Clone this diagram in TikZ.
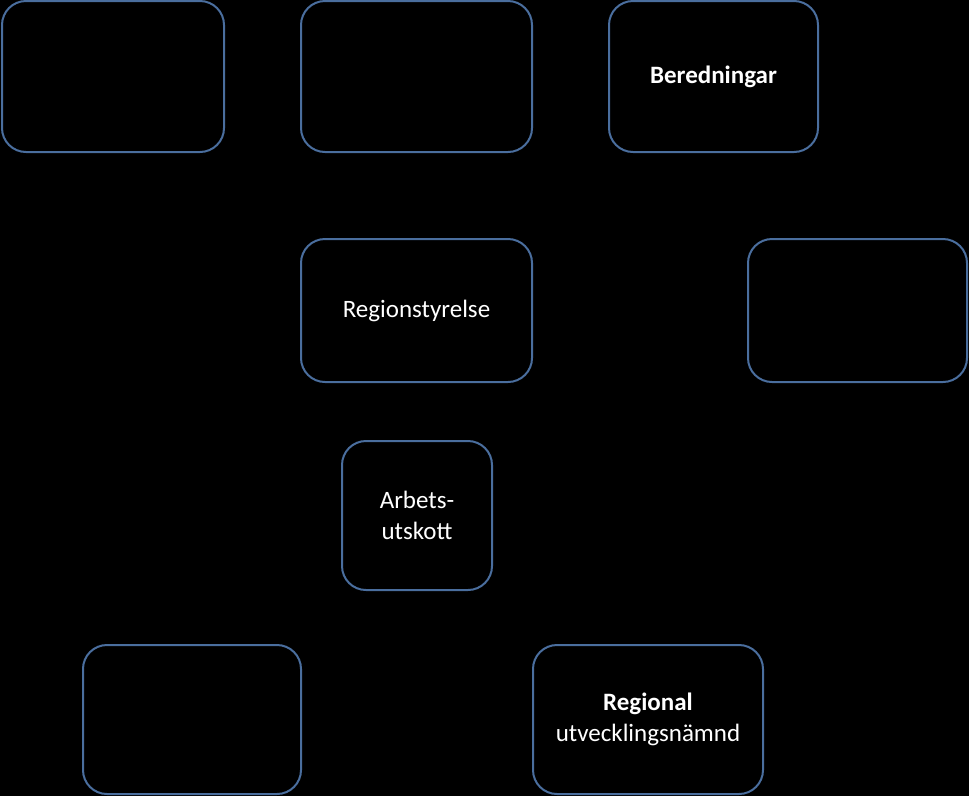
\documentclass[tikz,border=0pt]{standalone}
\usepackage{fontspec}
\setmainfont{Carlito}
\begin{document}
\begin{tikzpicture}[x=1pt,y=-1pt,
  box/.style={draw=boxblue,line width=2pt,rounded corners=24pt,text=white,align=center,font=\fontsize{25}{31}\selectfont}]
\definecolor{boxblue}{HTML}{4A6E9E}
\fill[black] (0,0) rectangle (969,796);
\useasboundingbox (0,0) rectangle (969,796);
\newcommand\mkbox[6]{\draw[box] (#2,#3) rectangle (#4,#5) node[midway] (#1) {#6};}
\mkbox{a}{2}{1}{224}{152}{}
\mkbox{b}{301}{1}{532}{152}{}
\mkbox{c}{609}{1}{818}{152}{\textbf{Beredningar}}
\mkbox{d}{301}{239}{532}{382}{Regionstyrelse}
\mkbox{e}{748}{239}{967}{382}{}
\mkbox{f}{342}{441}{492}{590}{Arbets-\\utskott}
\mkbox{g}{83}{645}{301}{794}{}
\mkbox{h}{533}{645}{763}{794}{\textbf{Regional}\\utvecklingsnämnd}
\end{tikzpicture}
\end{document}
